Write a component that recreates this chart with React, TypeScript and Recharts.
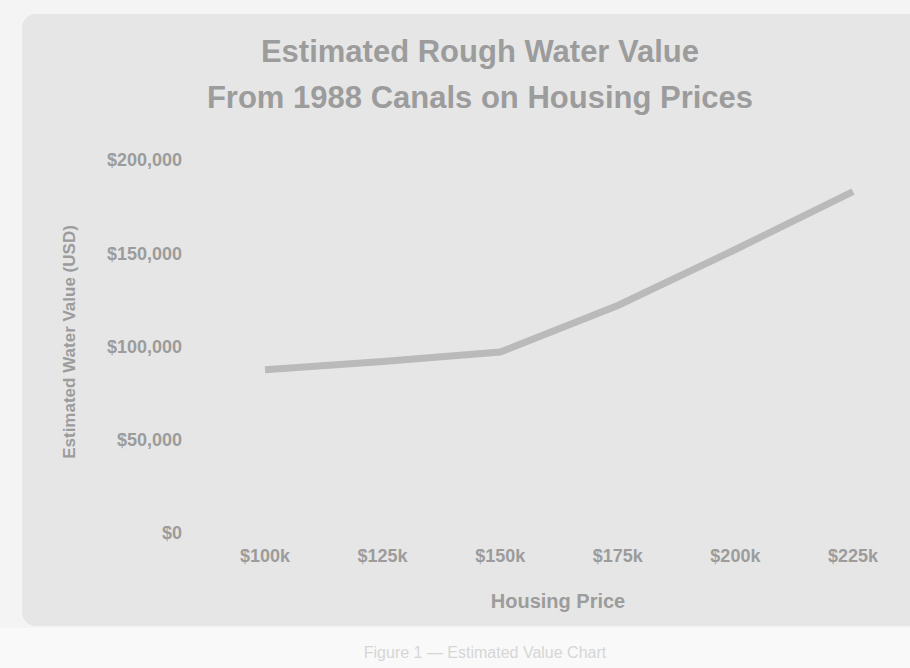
import React from 'react';
import { LineChart, Line, XAxis, YAxis } from 'recharts';

const categories = ['$100k', '$125k', '$150k', '$175k', '$200k', '$225k'];
const waterValues = [87500, 92000, 97000, 122000, 152000, 183000];
const yTicks = [0, 50000, 100000, 150000, 200000];

const data = categories.map((c, i) => ({ category: c, value: waterValues[i] }));

const fmt = (v: number) => '$' + v.toLocaleString('en-US');

const textColor = '#9c9c9c';
const font = 'Liberation Sans, Arial, sans-serif';

export default function App() {
  return (
    <div style={{ position: 'absolute', left: 0, top: 0, width: 910, height: 668, background: '#f4f4f4', overflow: 'hidden', fontFamily: font }}>
      <div style={{ position: 'absolute', left: 22, top: 14, width: 900, height: 612, background: '#e6e6e6', borderRadius: 14 }} />
      <div style={{ position: 'absolute', left: 0, top: 628, width: 910, height: 40, background: '#f9f9f9' }} />
      <div style={{ position: 'absolute', left: 0, top: 29, width: 960, textAlign: 'center', color: textColor, fontWeight: 'bold', fontSize: 31, lineHeight: '46px' }}>
        <div>Estimated Rough Water Value</div>
        <div>From 1988 Canals on Housing Prices</div>
      </div>
      <div style={{ position: 'absolute', left: 70, top: 342, width: 0, height: 0 }}>
        <div style={{ position: 'absolute', transform: 'translate(-50%, -50%) rotate(-90deg)', whiteSpace: 'nowrap', color: textColor, fontWeight: 'bold', fontSize: 17 }}>
          Estimated Water Value (USD)
        </div>
      </div>
      <div style={{ position: 'absolute', left: 388, top: 590, width: 340, textAlign: 'center', color: textColor, fontWeight: 'bold', fontSize: 20 }}>
        Housing Price
      </div>
      <div style={{ position: 'absolute', left: 300, top: 644, width: 370, textAlign: 'center', color: '#d6d6d6', fontSize: 16 }}>
        Figure 1 — Estimated Value Chart
      </div>
      <div style={{ position: 'absolute', left: 0, top: 0 }}>
        <LineChart width={910} height={668} data={data} margin={{ top: 160, right: 30, left: 0, bottom: 0 }}>
          <XAxis
            dataKey="category"
            height={135}
            padding={{ left: 75, right: 27 }}
            axisLine={false}
            tickLine={false}
            tickSize={0}
            tickMargin={16}
            tick={{ fill: textColor, fontSize: 18, fontWeight: 'bold', fontFamily: font }}
            interval={0}
          />
          <YAxis
            width={190}
            domain={[0, 200000]}
            ticks={yTicks}
            tickFormatter={fmt}
            axisLine={false}
            tickLine={false}
            tickSize={0}
            tickMargin={8}
            tick={{ fill: textColor, fontSize: 18, fontWeight: 'bold', fontFamily: font }}
          />
          <Line type="linear" dataKey="value" stroke="#bababa" strokeWidth={7} dot={false} isAnimationActive={false} />
        </LineChart>
      </div>
    </div>
  );
}
